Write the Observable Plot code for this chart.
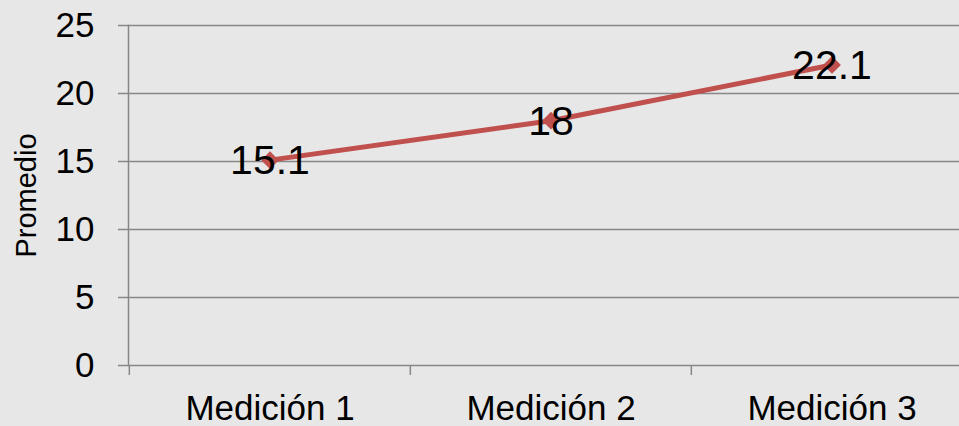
<!DOCTYPE html>
<html>
<head>
<meta charset="utf-8">
<script src="https://cdn.jsdelivr.net/npm/d3@7"></script>
<script src="https://cdn.jsdelivr.net/npm/@observablehq/plot@0.6"></script>
<style>
  html, body { margin: 0; padding: 0; background: #e7e7e7; overflow: hidden; }
  svg { overflow: visible; }
</style>
</head>
<body>
<div id="chart"></div>
<script>
const categories = ["Medición 1", "Medición 2", "Medición 3"];
const values = [15.1, 18, 22.1];
const labels = ["15.1", "18", "22.1"];
const yTicks = [0, 5, 10, 15, 20, 25];
const yTitle = "Promedio";

const data = categories.map((c, i) => ({cat: c, value: values[i], label: labels[i]}));

const W = 959, H = 426;
const xRange = [128, 972];
const bw = (xRange[1] - xRange[0]) / categories.length;
const gridColor = "#878787";

const chart = Plot.plot({
  width: W,
  height: H,
  marginLeft: 128,
  marginRight: 0,
  marginTop: 25,
  marginBottom: 61,
  style: {background: "#e7e7e7", fontFamily: "'Liberation Sans', Arial, sans-serif", color: "#000", overflow: "visible"},
  x: {type: "band", domain: categories, range: xRange, padding: 0},
  y: {domain: [0, 25], range: [365, 25]},
  marks: [
    Plot.gridY(yTicks, {stroke: gridColor, strokeOpacity: 1, strokeWidth: 1.5}),
    Plot.frame({anchor: "left", stroke: gridColor, strokeWidth: 1.5}),
    Plot.axisY(yTicks, {tickSize: 10, tickPadding: 24, fontSize: 35, stroke: gridColor, strokeWidth: 1.5, label: null}),
    Plot.ruleX(categories, {x: d => d, dx: -bw / 2, y1: 0, y2: 0, insetBottom: -10, stroke: gridColor, strokeWidth: 1.5}),
    Plot.axisX({tickSize: 0, tickPadding: 30, fontSize: 35, label: null}),
    Plot.text([yTitle], {frameAnchor: "left", textAnchor: "middle", rotate: -90, dx: -102, fontSize: 29, fill: "#000"}),
    Plot.line(data, {x: "cat", y: "value", stroke: "#c0504d", strokeWidth: 5}),
    Plot.dot(data, {x: "cat", y: "value", symbol: "diamond2", r: 8, fill: "#c0504d", stroke: "none"}),
    Plot.text(data, {x: "cat", y: "value", text: "label", fontSize: 41, fill: "#000", dy: 1})
  ]
});
document.getElementById("chart").appendChild(chart);
</script>
</body>
</html>
